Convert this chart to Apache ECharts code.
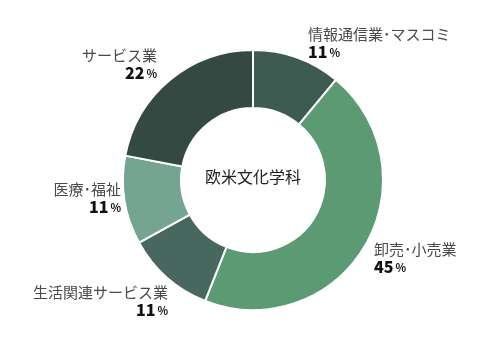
<!DOCTYPE html>
<html>
<head>
<meta charset="utf-8">
<script src="https://cdn.jsdelivr.net/npm/echarts@6/dist/echarts.min.js"></script>
<style>html,body{margin:0;padding:0;background:#fff;}#c{width:488px;height:360px;}</style>
</head>
<body>
<div id="c"></div>
<script>
const categories = ['情報通信業･マスコミ', '卸売･小売業', '生活関連サービス業', '医療･福祉', 'サービス業'];
const values = [11, 45, 11, 11, 22];
const centerLabel = '欧米文化学科';

const colors = ['#3e5b51', '#5c9a73', '#48675e', '#75a590', '#334942'];
const labelPos = [
  [308, 43, 'left'],
  [374, 258, 'left'],
  [168, 301, 'right'],
  [121, 198, 'right'],
  [157, 64, 'right']
];
const FONT = '"Noto Sans CJK JP", "Noto Sans", sans-serif';

const chart = echarts.init(document.getElementById('c'), null, {renderer: 'canvas'});
chart.setOption({
  animation: false,
  backgroundColor: '#fff',
  graphic: [{
    type: 'text',
    left: 253 - 48, top: 180 - 11,
    style: {text: centerLabel, font: '16px ' + FONT, fill: '#222'}
  }],
  series: [{
    type: 'pie',
    center: [253, 180],
    radius: [72, 130],
    startAngle: 90,
    clockwise: true,
    itemStyle: {borderColor: '#fff', borderWidth: 2},
    labelLine: {show: false},
    label: {
      show: true,
      position: 'outside',
      overflow: 'none',
      formatter: function (p) { return '{n|' + p.name + '}\n{v|' + p.value + '}{p|%}'; },
      rich: {
        n: {fontFamily: FONT, fontSize: 15, color: '#4a4a4a', lineHeight: 18},
        v: {fontFamily: FONT, fontSize: 16, fontWeight: 900, color: '#111', lineHeight: 18},
        p: {fontFamily: FONT, fontSize: 11, fontWeight: 'bold', color: '#111', lineHeight: 18, padding: [2, 0, 0, 2]}
      }
    },
    labelLayout: function (params) {
      const p = labelPos[params.dataIndex];
      return {x: p[0], y: p[1], align: p[2], verticalAlign: 'middle'};
    },
    emphasis: {disabled: true},
    data: categories.map(function (name, i) {
      return {name: name, value: values[i], itemStyle: {color: colors[i]},
        label: {align: labelPos[i][2]}};
    })
  }]
});
</script>
</body>
</html>
